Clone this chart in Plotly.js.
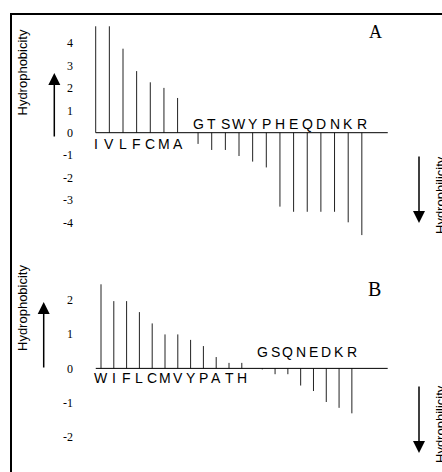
<!DOCTYPE html>
<html><head><meta charset="utf-8">
<script src="https://cdn.plot.ly/plotly-3.0.1.min.js"></script>
<style>html,body{margin:0;padding:0;background:#fff;} #chart{width:442px;height:472px;}</style>
</head><body><div id="chart"></div>
<script>
// ---- data ----
const residuesA = ['I','V','L','F','C','M','A','G','T','S','W','Y','P','H','E','Q','D','N','K','R'];
const valuesA = [4.75,4.75,3.75,2.75,2.25,2.0,1.55,-0.5,-0.77,-0.77,-1.04,-1.29,-1.55,-3.3,-3.53,-3.53,-3.53,-3.53,-4.0,-4.57];
const residuesB = ['W','I','F','L','C','M','V','Y','P','A','T','H','G','S','Q','N','E','D','K','R'];
const valuesB = [2.45,1.96,1.96,1.64,1.31,0.99,0.99,0.83,0.65,0.33,0.16,0.16,-0.03,-0.17,-0.17,-0.5,-0.66,-0.98,-1.15,-1.31];
const ticksA = [-4,-3,-2,-1,0,1,2,3,4];
const ticksB = [-2,-1,0,1,2];
const panelLabels = ['A','B'];
const leftTitle = 'Hydrophobicity';
const rightTitle = 'Hydrophilicity';

// ---- helpers ----
const W = 442, H = 472;
const px = x => x / W;
const py = y => 1 - y / H;
const sans = 'Liberation Sans, Arial, sans-serif';
const serif = 'Liberation Serif, Times New Roman, serif';

function positions(values, gap) {
  return values.map((v, i) => i + (v < 0 ? gap : 0));
}
function stems(xs, values) {
  const x = [], y = [];
  xs.forEach((xv, i) => { x.push(xv, xv, null); y.push(0, values[i], null); });
  return {x, y};
}

const xsA = positions(valuesA, 0.5);
const xsB = positions(valuesB, 0.6);
const sA = stems(xsA, valuesA);
const sB = stems(xsB, valuesB);

const traces = [
  {type:'scatter', mode:'lines', x:sA.x, y:sA.y, xaxis:'x', yaxis:'y',
   line:{color:'#222', width:1}, hoverinfo:'skip', showlegend:false},
  {type:'scatter', mode:'lines', x:sB.x, y:sB.y, xaxis:'x2', yaxis:'y2',
   line:{color:'#222', width:1}, hoverinfo:'skip', showlegend:false}
];

const annotations = [];
function letters(residues, values, xs, xref, yref, shiftPos, shiftNeg) {
  residues.forEach((r, i) => {
    annotations.push({xref, yref, x: xs[i], y: 0, text: r, showarrow:false,
      xanchor:'center', yanchor:'middle', yshift: values[i] < 0 ? shiftNeg : shiftPos,
      font:{family:sans, size:14, color:'#000'}});
  });
}
letters(residuesA, valuesA, xsA, 'x', 'y', -10.8, 9.2);
letters(residuesB, valuesB, xsB, 'x2', 'y2', -9.4, 16.3);

// panel labels
annotations.push({xref:'paper', yref:'paper', x:px(375), y:py(32), text:panelLabels[0], showarrow:false,
  xanchor:'center', yanchor:'middle', font:{family:serif, size:18, color:'#000'}});
annotations.push({xref:'paper', yref:'paper', x:px(374), y:py(289), text:panelLabels[1], showarrow:false,
  xanchor:'center', yanchor:'middle', font:{family:serif, size:20, color:'#000'}});

// rotated side titles
[[22, 72.5, leftTitle], [22, 308, leftTitle], [440, 195, rightTitle], [440, 424, rightTitle]].forEach(t => {
  annotations.push({xref:'paper', yref:'paper', x:px(t[0]), y:py(t[1]), text:t[2], showarrow:false,
    textangle:-90, xanchor:'center', yanchor:'middle', font:{family:sans, size:13, color:'#000'}});
});

// arrows
[[54.3, 73, 65], [43.7, 302, 67], [419, 223, -68], [419, 453, -68]].forEach(a => {
  annotations.push({xref:'paper', yref:'paper', x:px(a[0]), y:py(a[1]), ax:0, ay:a[2], text:'',
    showarrow:true, arrowhead:2, arrowsize:1.6, arrowwidth:1.5, arrowcolor:'#000'});
});

const yAxisBase = {showgrid:false, zeroline:false, showline:false, ticks:'', fixedrange:true,
  tickfont:{family:serif, size:12, color:'#000'}};

const layout = {
  width: W, height: H,
  margin:{l:0, r:0, t:0, b:0},
  paper_bgcolor:'#fff', plot_bgcolor:'rgba(0,0,0,0)',
  showlegend:false,
  xaxis:{domain:[px(74), px(395)], range:[-1.59, 21.93], visible:false, fixedrange:true, anchor:'y'},
  yaxis:Object.assign({}, yAxisBase, {domain:[py(238), py(18)], range:[-4.70, 5.12], anchor:'x',
    tickvals:ticksA, ticktext:ticksA.map(String)}),
  xaxis2:{domain:[px(74), px(395)], range:[-2.11, 22.97], visible:false, fixedrange:true, anchor:'y2'},
  yaxis2:Object.assign({}, yAxisBase, {domain:[py(460), py(262)], range:[-2.67, 3.10], anchor:'x2',
    tickvals:ticksB, ticktext:ticksB.map(String)}),
  shapes:[
    {type:'rect', xref:'paper', yref:'paper', x0:px(11), y0:py(14), x1:1.1, y1:-0.1,
     line:{color:'#000', width:2}},
    {type:'line', xref:'x', yref:'y', x0:0, x1:21.4, y0:0, y1:0, line:{color:'#000', width:1}},
    {type:'line', xref:'x2', yref:'y2', x0:-0.41, x1:22.4, y0:0, y1:0, line:{color:'#000', width:1}}
  ],
  annotations
};

Plotly.newPlot('chart', traces, layout, {displayModeBar:false, staticPlot:true});
</script>
</body></html>
